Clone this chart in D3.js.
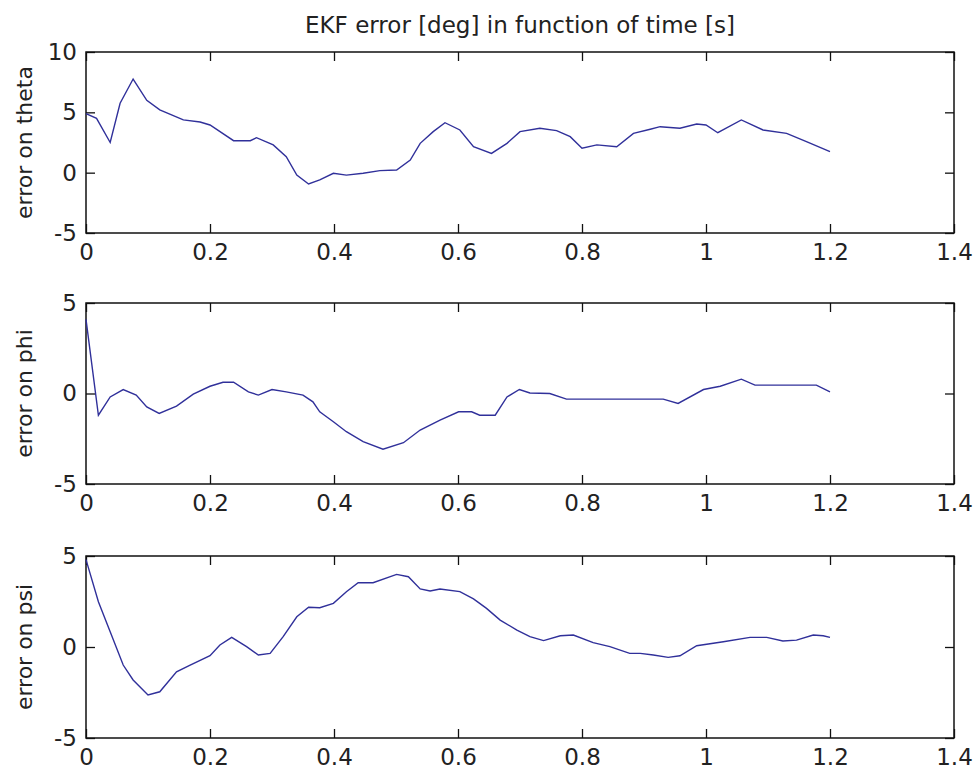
<!DOCTYPE html>
<html>
<head>
<meta charset="utf-8">
<script src="https://cdn.jsdelivr.net/npm/d3@7"></script>
<style>
  body { margin: 0; background: #fff; }
  text { font-family: "DejaVu Sans", sans-serif; fill: #222; }
</style>
</head>
<body>
<div id="chart"></div>
<script>
// time samples and errors
const tTheta = [0, 0.017, 0.039, 0.055, 0.076, 0.098, 0.119, 0.157, 0.184, 0.2, 0.238, 0.265, 0.275, 0.302, 0.323, 0.34, 0.359, 0.377, 0.399, 0.42, 0.447, 0.474, 0.501, 0.523, 0.539, 0.56, 0.579, 0.603, 0.625, 0.654, 0.679, 0.7, 0.732, 0.759, 0.781, 0.8, 0.824, 0.856, 0.883, 0.91, 0.926, 0.958, 0.985, 1.0, 1.019, 1.057, 1.092, 1.13, 1.162, 1.2];
const theta = [4.9, 4.5, 2.5, 5.75, 7.76, 6.0, 5.2, 4.37, 4.2, 3.95, 2.65, 2.65, 2.9, 2.3, 1.33, -0.2, -0.94, -0.6, -0.05, -0.2, -0.05, 0.17, 0.22, 1.05, 2.43, 3.4, 4.14, 3.54, 2.15, 1.6, 2.43, 3.4, 3.68, 3.48, 2.98, 2.02, 2.3, 2.15, 3.26, 3.6, 3.81, 3.68, 4.03, 3.95, 3.31, 4.37, 3.54, 3.26, 2.57, 1.74];

const tPhi = [0, 0.02, 0.039, 0.06, 0.081, 0.098, 0.118, 0.146, 0.173, 0.2, 0.221, 0.238, 0.262, 0.278, 0.3, 0.323, 0.35, 0.366, 0.377, 0.399, 0.42, 0.447, 0.479, 0.512, 0.539, 0.571, 0.601, 0.622, 0.635, 0.66, 0.679, 0.699, 0.716, 0.748, 0.775, 0.91, 0.931, 0.955, 0.996, 1.023, 1.057, 1.079, 1.108, 1.178, 1.2];
const phi = [4.1, -1.2, -0.19, 0.22, -0.09, -0.74, -1.1, -0.7, -0.04, 0.4, 0.62, 0.62, 0.09, -0.09, 0.22, 0.09, -0.09, -0.46, -1.01, -1.56, -2.11, -2.66, -3.08, -2.72, -2.02, -1.47, -1.01, -1.01, -1.2, -1.2, -0.19, 0.22, 0.03, 0.0, -0.31, -0.31, -0.31, -0.55, 0.22, 0.4, 0.79, 0.46, 0.46, 0.46, 0.09];

const tPsi = [0, 0.02, 0.039, 0.06, 0.076, 0.1, 0.119, 0.146, 0.168, 0.2, 0.216, 0.235, 0.259, 0.278, 0.297, 0.318, 0.34, 0.359, 0.377, 0.399, 0.42, 0.439, 0.463, 0.501, 0.52, 0.539, 0.555, 0.571, 0.603, 0.625, 0.646, 0.668, 0.695, 0.716, 0.738, 0.765, 0.786, 0.818, 0.845, 0.877, 0.894, 0.915, 0.939, 0.958, 0.985, 1.028, 1.071, 1.098, 1.124, 1.146, 1.173, 1.189, 1.2];
const psi = [4.8, 2.49, 0.84, -0.99, -1.81, -2.64, -2.46, -1.36, -0.99, -0.48, 0.11, 0.53, 0.02, -0.44, -0.35, 0.57, 1.66, 2.18, 2.16, 2.4, 3.04, 3.53, 3.53, 3.99, 3.86, 3.19, 3.08, 3.19, 3.04, 2.64, 2.12, 1.48, 0.93, 0.57, 0.35, 0.62, 0.66, 0.24, 0.02, -0.35, -0.35, -0.44, -0.57, -0.48, 0.07, 0.29, 0.53, 0.53, 0.33, 0.38, 0.66, 0.62, 0.53];

const xTicks = [0, 0.2, 0.4, 0.6, 0.8, 1, 1.2, 1.4];
const yTicksTheta = [-5, 0, 5, 10];
const yTicksSmall = [-5, 0, 5];

const width = 975;
const height = 774;
const left = 86, right = 954;

const panels = [
  { label: "error on theta", t: tTheta, v: theta, yDomain: [-5, 10], yTicks: yTicksTheta, top: 52, bottom: 233 },
  { label: "error on phi", t: tPhi, v: phi, yDomain: [-5, 5], yTicks: yTicksSmall, top: 303, bottom: 484 },
  { label: "error on psi", t: tPsi, v: psi, yDomain: [-5, 5], yTicks: yTicksSmall, top: 556, bottom: 738 }
];

const svg = d3.select("#chart")
  .append("svg")
  .attr("width", width)
  .attr("height", height);

const x = d3.scaleLinear().domain([0, 1.4]).range([left, right]);
const fmt = d => String(d); // plain hyphen minus like the original

// title
svg.append("text")
  .attr("x", (left + right) / 2)
  .attr("y", 33)
  .attr("text-anchor", "middle")
  .attr("font-size", "23px")
  .text("EKF error [deg] in function of time [s]");

panels.forEach(p => {
  const y = d3.scaleLinear().domain(p.yDomain).range([p.bottom, p.top]);
  const g = svg.append("g");
  const tick = 9;

  // bottom axis with labels, top axis ticks only
  g.append("g")
    .attr("transform", `translate(0,${p.bottom})`)
    .call(d3.axisBottom(x).tickValues(xTicks).tickSizeInner(-tick).tickSizeOuter(0).tickPadding(11).tickFormat(fmt))
    .call(a => a.select(".domain").remove());
  g.append("g")
    .attr("transform", `translate(0,${p.top})`)
    .call(d3.axisTop(x).tickValues(xTicks).tickSizeInner(-tick).tickSizeOuter(0).tickFormat(""))
    .call(a => a.select(".domain").remove());

  // left axis with labels, right axis ticks only
  g.append("g")
    .attr("transform", `translate(${left},0)`)
    .call(d3.axisLeft(y).tickValues(p.yTicks).tickSizeInner(-tick).tickSizeOuter(0).tickPadding(9).tickFormat(fmt))
    .call(a => a.select(".domain").remove());
  g.append("g")
    .attr("transform", `translate(${right},0)`)
    .call(d3.axisRight(y).tickValues(p.yTicks).tickSizeInner(-tick).tickSizeOuter(0).tickFormat(""))
    .call(a => a.select(".domain").remove());

  g.selectAll(".tick line").attr("stroke", "#111").attr("stroke-width", 1.3);
  g.selectAll(".tick text").attr("font-size", "23px").attr("fill", "#222")
    .attr("font-family", "DejaVu Sans, sans-serif");

  // box
  g.append("rect")
    .attr("x", left).attr("y", p.top)
    .attr("width", right - left).attr("height", p.bottom - p.top)
    .attr("fill", "none").attr("stroke", "#111").attr("stroke-width", 1.5);

  // data line
  const pts = p.t.map((t, i) => [t, p.v[i]]);
  g.append("path")
    .datum(pts)
    .attr("fill", "none")
    .attr("stroke", "#30309a")
    .attr("stroke-width", 1.4)
    .attr("d", d3.line().x(d => x(d[0])).y(d => y(d[1])));

  // y label
  g.append("text")
    .attr("transform", `translate(32,${(p.top + p.bottom) / 2}) rotate(-90)`)
    .attr("text-anchor", "middle")
    .attr("font-size", "22px")
    .text(p.label);
});
</script>
</body>
</html>
